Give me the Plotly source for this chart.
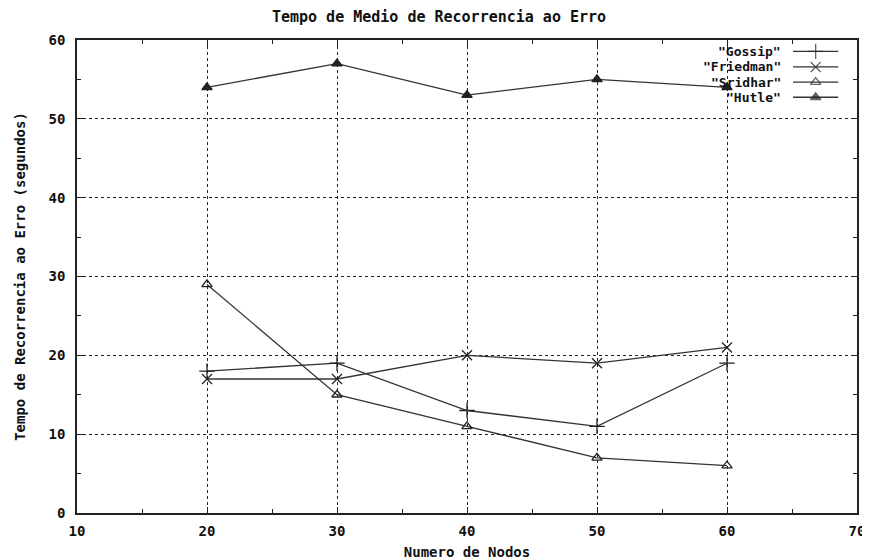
import plotly.graph_objects as go

nodos = [20, 30, 40, 50, 60]
gossip = [18, 19, 13, 11, 19]
friedman = [17, 17, 20, 19, 21]
sridhar = [29, 15, 11, 7, 6]
hutle = [54, 57, 53, 55, 54]

names = ['"Gossip"', '"Friedman"', '"Sridhar"', '"Hutle"']
symbols = ["cross-thin-open", "x-thin-open", "triangle-up-open", "triangle-up"]
sizes = [11, 10, 9, 9]
series = [gossip, friedman, sridhar, hutle]

FONT = "DejaVu Sans Mono"
LINE = "#333333"
TXT = "#111111"

fig = go.Figure()
for name, vals, sym, sz in zip(names, series, symbols, sizes):
    fig.add_trace(go.Scatter(
        x=nodos, y=vals, mode="lines+markers", name=name,
        line=dict(color=LINE, width=1.3),
        marker=dict(symbol=sym, size=sz, color="#222",
                    line=dict(color="#222", width=1.3)),
        showlegend=False,
    ))

# custom gnuplot-style key (text right, sample on right)
row_y = [0.976, 0.943, 0.911, 0.879]
for name, sym, sz, ry in zip(names, symbols, sizes, row_y):
    fig.add_trace(go.Scatter(
        x=[0.918, 0.947, 0.976], y=[ry, ry, ry], mode="lines+markers",
        xaxis="x2", yaxis="y2", showlegend=False, hoverinfo="skip",
        line=dict(color=LINE, width=1.3),
        marker=dict(symbol=sym, size=[0, sz, 0], color="#222",
                    line=dict(color="#222", width=1.3)),
    ))
    fig.add_annotation(x=0.904, y=ry, xref="paper", yref="paper",
                       text=name, showarrow=False, xanchor="right",
                       yanchor="middle", borderpad=0,
                       font=dict(family=FONT, size=13, color=TXT, weight="bold"))

tickfont = dict(family=FONT, size=14, color=TXT, weight="bold")
axis_common = dict(
    showline=True, linecolor="#222", linewidth=1.5, mirror="ticks",
    ticks="inside", ticklen=6, tickcolor="#222",
    showgrid=True, gridcolor="#222", gridwidth=1, griddash="dot",
    zeroline=False, automargin=False,
    tickfont=tickfont,
    minor=dict(ticks="inside", ticklen=4, dtick=5, tickcolor="#222", showgrid=False),
)

# page body has an 8px default margin: size the figure so the plot area
# lands where the reference has it in the 870x560 window
fig.update_layout(
    width=862, height=552,
    paper_bgcolor="white", plot_bgcolor="white",
    margin=dict(l=69, r=13, t=32, b=47, autoexpand=False),
    title=dict(text="Tempo de Medio de Recorrencia ao Erro",
               x=0.5, xanchor="center", y=0.984, yanchor="middle",
               font=dict(family=FONT, size=15, color=TXT, weight="bold")),
    xaxis=dict(range=[10, 70], dtick=10, tick0=10, ticklabelstandoff=4,
               title=dict(text="Numero de Nodos", standoff=13,
                          font=dict(family=FONT, size=14, color=TXT, weight="bold")),
               **axis_common),
    yaxis=dict(range=[0, 60], dtick=10, tick0=0, ticklabelstandoff=7,
               title=dict(text="Tempo de Recorrencia ao Erro (segundos)", standoff=20,
                          font=dict(family=FONT, size=14, color=TXT, weight="bold")),
               **axis_common),
    xaxis2=dict(domain=[0, 1], range=[0, 1], anchor="y2", overlaying="x",
                visible=False),
    yaxis2=dict(domain=[0, 1], range=[0, 1], anchor="x2", overlaying="y",
                visible=False),
    font=dict(family=FONT, color=TXT),
)

fig.write_html("out.html")
